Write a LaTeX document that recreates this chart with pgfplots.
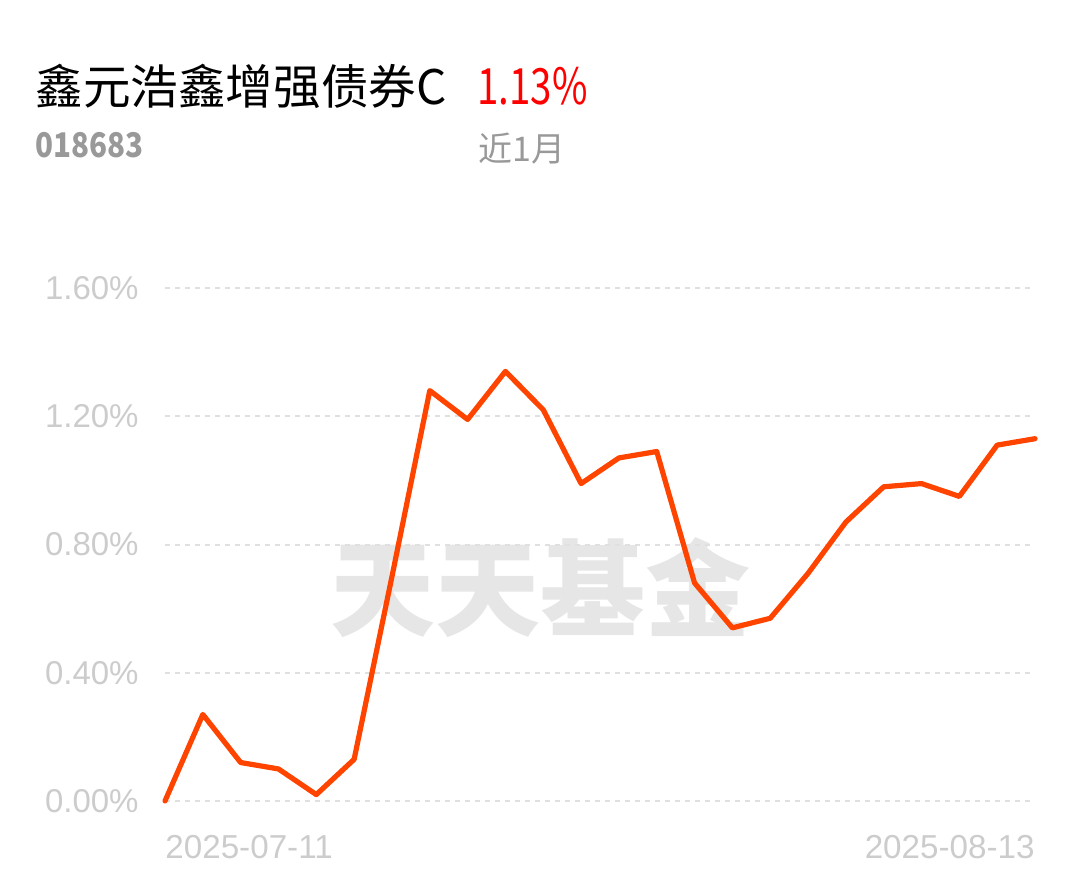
\documentclass[border=0pt]{standalone}
\usepackage{fontspec}
\setmainfont{Liberation Sans}
\newfontfamily\cjk{Noto Sans CJK SC}
\usepackage{pgfplots}
\pgfplotsset{compat=1.18}
\definecolor{linered}{RGB}{255,68,0}
\definecolor{gridgray}{RGB}{224,224,224}
\definecolor{ticktext}{RGB}{204,204,204}
\definecolor{subgray}{RGB}{153,153,153}
\definecolor{wmgray}{RGB}{230,230,230}
\begin{document}
\begin{tikzpicture}
% 1 px of the reference = 0.5pt
\path[use as bounding box] (0,0) rectangle (540pt,439pt);
% header
\node[anchor=base west, inner sep=0pt, font=\cjk\fontsize{23.8}{23.8}\selectfont] at (17.5pt,386.5pt) {鑫元浩鑫增强债券C};
\node[anchor=base west, inner sep=0pt, font=\cjk\fontsize{25}{25}\selectfont, text=red] at (238.5pt,386.5pt) {\scalebox{0.77}[1]{1.13\%}};
\node[anchor=base west, inner sep=0pt, font=\cjk\bfseries\fontsize{17}{17}\selectfont, text=subgray] at (17.5pt,360pt) {\scalebox{0.87}[1]{018683}};
\node[anchor=base west, inner sep=0pt, font=\cjk\fontsize{17}{17}\selectfont, text=subgray] at (239pt,358pt) {近1月};
% watermark
\node[inner sep=0pt, font=\cjk\bfseries\fontsize{52.5}{52.5}\selectfont, text=wmgray] at (270pt,145pt) {天天基金};
\begin{axis}[
  at={(82.5pt,38.5pt)}, anchor=south west,
  width=435pt, height=256.5pt, scale only axis,
  xmin=0, xmax=23, ymin=0, ymax=1.6,
  axis line style={draw=none},
  major tick length=0pt,
  xtick=\empty,
  ytick={0,0.4,0.8,1.2,1.6},
  ymajorgrids,
  grid style={gridgray, line width=1pt, dash pattern=on 2.5pt off 2.5pt},
  /pgf/number format/assume math mode=true,
  yticklabel={\pgfmathprintnumber[fixed,fixed zerofill,precision=2]{\tick}\%},
  yticklabel style={anchor=east, inner sep=0pt, xshift=-13pt, font=\fontsize{16.5}{16.5}\selectfont, text=ticktext},
  clip=false,
]
\addplot[linered, line width=2.6pt, line join=round, line cap=round] coordinates {
  (0,0.00) (1,0.27) (2,0.12) (3,0.10) (4,0.02) (5,0.13) (6,0.70)
  (7,1.28) (8,1.19) (9,1.34) (10,1.22) (11,0.99) (12,1.07) (13,1.09)
  (14,0.68) (15,0.54) (16,0.57) (17,0.71) (18,0.87) (19,0.98) (20,0.99)
  (21,0.95) (22,1.11) (23,1.13)
};
\end{axis}
% date labels
\node[anchor=base west, inner sep=0pt, font=\fontsize{16.6}{16.6}\selectfont, text=ticktext] at (82.5pt,10pt) {2025-07-11};
\node[anchor=base east, inner sep=0pt, font=\fontsize{16.6}{16.6}\selectfont, text=ticktext] at (517.5pt,10pt) {2025-08-13};
\end{tikzpicture}
\end{document}
